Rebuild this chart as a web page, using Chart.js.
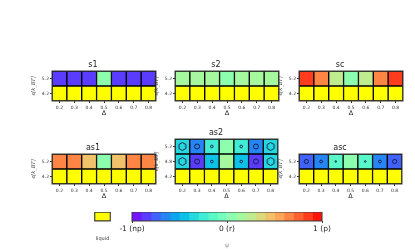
<!DOCTYPE html>
<html>
<head>
<meta charset="utf-8">
<script src="https://cdn.jsdelivr.net/npm/chart.js@4"></script>
<style>
  html, body { margin: 0; padding: 0; background: #fff; }
  #page { position: relative; width: 415px; height: 249px; overflow: hidden; }
  .box { position: absolute; }
</style>
</head>
<body>
<div id="page"></div>
<script>
// data
const deltas = ["0.2", "0.3", "0.4", "0.5", "0.6", "0.7", "0.8"];
const epsTwo = ["4.2", "5.2"];          // bottom -> top
const epsThree = ["4.2", "4.8", "5.2"];
const liquidRow = [null, null, null, null, null, null, null]; // null = liquid phase

const s1Psi  = [-0.85, -0.85, -0.85, 0.05, -0.85, -0.85, -0.85];
const s2Psi  = [0.15, 0.15, 0.15, 0.05, 0.15, 0.15, 0.15];
const scPsi  = [0.85, 0.65, 0.25, 0.05, 0.25, 0.65, 0.85];
const as1Psi = [0.65, 0.65, 0.45, 0.05, 0.45, 0.65, 0.65];
const as2Psi48 = [-0.35, -0.85, -0.45, 0.15, -0.45, -0.85, -0.35];
const as2Psi52 = [-0.35, -0.65, -0.25, 0.05, -0.25, -0.65, -0.35];
const ascPsi = [-0.75, -0.65, -0.15, 0.05, -0.15, -0.65, -0.75];

// symmetry markers (shape + size) on the crystal cells
const as2Marker = ["hex", "circle", "circle", null, "circle", "circle", "hex"];
const as2Size   = [4, 2.5, 1.3, 0, 1.3, 2.5, 4];
const ascMarker = ["circle", "circle", "circle", null, "circle", "circle", "circle"];
const ascSize   = [2.1, 1.4, 0.8, 0, 0.8, 1.4, 2.1];

// colour bar
const cbTicks = [-1, 0, 1];
const cbTickLabels = ["-1 (np)", "0 (r)", "1 (p)"];
const nBins = 20;

Chart.defaults.font.family = "'DejaVu Sans', sans-serif";
Chart.defaults.color = "#222";

const LIQUID = "#ffff00";
const MARK = "#16204a";

function rainbow(t) {
    const r = Math.min(1, Math.abs(2 * t - 0.5));
    const g = Math.sin(Math.PI * t);
    const b = Math.cos(Math.PI * t / 2);
    return "rgb(" + Math.round(r * 255) + "," + Math.round(g * 255) + "," + Math.round(b * 255) + ")";
}

function psiColor(v) {
    if (v === null) return LIQUID;
    var bin = Math.floor((v + 1) / 2 * nBins);
    bin = Math.max(0, Math.min(nBins - 1, bin));
    return rainbow((bin + 0.5) / nBins);
}

function hexImg(r) {
    var c = document.createElement("canvas");
    var s = Math.ceil(2 * r + 3);
    c.width = s; c.height = s;
    var g = c.getContext("2d");
    g.strokeStyle = MARK;
    g.lineWidth = 1;
    g.beginPath();
    for (var k = 0; k < 6; k++) {
        var a = Math.PI / 3 * k - Math.PI / 2;
        var px = s / 2 + r * Math.cos(a), py = s / 2 + r * Math.sin(a);
        if (k === 0) g.moveTo(px, py); else g.lineTo(px, py);
    }
    g.closePath();
    g.stroke();
    return c;
}

// frame round the plot area, like the axes spines
const framePlugin = {
    id: "frame",
    afterDatasetsDraw(chart) {
        const a = chart.chartArea, ctx = chart.ctx;
        ctx.save();
        ctx.strokeStyle = "#3a3a3a";
        ctx.lineWidth = 1;
        ctx.strokeRect(a.left, a.top, a.right - a.left, a.bottom - a.top);
        ctx.restore();
    }
};

function addBox(left, top, w, h) {
    var d = document.createElement("div");
    d.className = "box";
    d.style.left = left + "px";
    d.style.top = top + "px";
    d.style.width = w + "px";
    d.style.height = h + "px";
    var c = document.createElement("canvas");
    d.appendChild(c);
    document.getElementById("page").appendChild(d);
    return c;
}

const YW = 22, RP = 4, XH = 16, TH = 12;

function markerSet(row, shapes, sizes) {
    var pts = [], styles = [], radii = [];
    shapes.forEach(function (s, i) {
        if (!s) return;
        pts.push({ x: deltas[i], y: row + 0.5 });
        styles.push(s === "hex" ? hexImg(sizes[i]) : "circle");
        radii.push(sizes[i]);
    });
    return {
        type: "line",
        data: pts,
        showLine: false,
        pointStyle: styles,
        pointRadius: radii,
        pointBorderColor: MARK,
        pointBackgroundColor: "rgba(0,0,0,0)",
        pointBorderWidth: 1,
        order: 0
    };
}

function makePanel(p) {
    var w = p.plot.w + YW + RP, h = p.plot.h + TH + XH;
    var canvas = addBox(p.plot.x - YW, p.plot.y - TH, w, h);
    var datasets = p.rows.map(function (vals, i) {
        return {
            type: "bar",
            data: deltas.map(function () { return [i, i + 1]; }),
            backgroundColor: vals.map(psiColor),
            borderColor: "#000",
            borderWidth: 1,
            borderSkipped: false,
            grouped: false,
            barPercentage: 1,
            categoryPercentage: 1,
            order: 1
        };
    });
    (p.markers || []).forEach(function (m) {
        datasets.push(markerSet(m.row, m.shapes, m.sizes));
    });
    var yLabels = p.eps;
    new Chart(canvas.getContext("2d"), {
        type: "bar",
        data: { labels: deltas, datasets: datasets },
        plugins: [framePlugin],
        options: {
            responsive: true,
            maintainAspectRatio: false,
            animation: false,
            layout: { padding: { left: 0, right: RP, top: 0, bottom: 0 } },
            plugins: {
                legend: { display: false },
                tooltip: { enabled: false },
                title: {
                    display: true,
                    text: p.title,
                    color: "#222",
                    font: { size: 8, weight: "normal", lineHeight: 1.25 },
                    padding: { top: 1, bottom: 1 }
                }
            },
            scales: {
                x: {
                    type: "category",
                    offset: true,
                    grid: { offset: false, drawOnChartArea: false, tickLength: 2, color: "#333" },
                    border: { display: false },
                    ticks: { font: { size: 4.5 }, padding: 2, maxRotation: 0, autoSkip: false, color: "#333" },
                    title: { display: true, text: "Δ", font: { size: 6.5 }, padding: 0, color: "#222" },
                    afterFit: function (axis) { axis.height = XH; }
                },
                y: {
                    type: "linear",
                    min: 0,
                    max: yLabels.length,
                    grid: { drawOnChartArea: false, tickLength: 2, color: "#333" },
                    border: { display: false },
                    afterBuildTicks: function (axis) {
                        axis.ticks = yLabels.map(function (_, i) { return { value: i + 0.5 }; });
                    },
                    ticks: {
                        font: { size: 4.5 },
                        padding: 1,
                        color: "#333",
                        callback: function (v) { return yLabels[Math.floor(v)]; }
                    },
                    title: {
                        display: true,
                        text: "ϵ[k_BT]",
                        font: { size: 5, family: "'DejaVu Serif', serif", style: "italic" },
                        padding: { top: 0.5, bottom: 0 },
                        color: "#333"
                    },
                    afterFit: function (axis) { axis.width = YW; }
                }
            }
        }
    });
}

const panels = [
    { title: "s1",  plot: { x: 52,  y: 71,  w: 104, h: 30 }, eps: epsTwo, rows: [liquidRow, s1Psi] },
    { title: "s2",  plot: { x: 175, y: 71,  w: 104, h: 30 }, eps: epsTwo, rows: [liquidRow, s2Psi] },
    { title: "sc",  plot: { x: 299, y: 71,  w: 104, h: 30 }, eps: epsTwo, rows: [liquidRow, scPsi] },
    { title: "as1", plot: { x: 52,  y: 154, w: 104, h: 30 }, eps: epsTwo, rows: [liquidRow, as1Psi] },
    { title: "as2", plot: { x: 175, y: 139, w: 104, h: 45 }, eps: epsThree, rows: [liquidRow, as2Psi48, as2Psi52],
      markers: [{ row: 1, shapes: as2Marker, sizes: as2Size }, { row: 2, shapes: as2Marker, sizes: as2Size }] },
    { title: "asc", plot: { x: 299, y: 154, w: 104, h: 30 }, eps: epsTwo, rows: [liquidRow, ascPsi],
      markers: [{ row: 1, shapes: ascMarker, sizes: ascSize }] }
];

document.addEventListener("DOMContentLoaded", function () {
    panels.forEach(makePanel);

    // liquid swatch
    var lq = addBox(84, 212, 37, 30);
    new Chart(lq.getContext("2d"), {
        type: "bar",
        data: {
            labels: ["liquid"],
            datasets: [{
                data: [[0, 1]],
                backgroundColor: LIQUID,
                borderColor: "#333",
                borderWidth: 0.8,
                borderSkipped: false,
                barPercentage: 1,
                categoryPercentage: 1
            }]
        },
        plugins: [framePlugin],
        options: {
            responsive: true,
            maintainAspectRatio: false,
            animation: false,
            layout: { padding: { left: 10, right: 10, top: 0, bottom: 0 } },
            plugins: { legend: { display: false }, tooltip: { enabled: false } },
            scales: {
                x: {
                    grid: { display: false },
                    border: { display: false },
                    ticks: { font: { size: 5 }, padding: 7, color: "#333" },
                    afterFit: function (axis) { axis.height = 21; }
                },
                y: { display: false, min: 0, max: 1 }
            }
        }
    });

    // colour bar
    var cbSets = [];
    for (var b = 0; b < nBins; b++) {
        var lo = -1 + 2 * b / nBins, hi = -1 + 2 * (b + 1) / nBins;
        cbSets.push({
            data: [[lo, hi]],
            backgroundColor: rainbow((b + 0.5) / nBins),
            borderWidth: 0,
            grouped: false,
            barPercentage: 1,
            categoryPercentage: 1
        });
    }
    var cb = addBox(112, 212, 230, 37);
    new Chart(cb.getContext("2d"), {
        type: "bar",
        data: { labels: [""], datasets: cbSets },
        plugins: [framePlugin],
        options: {
            indexAxis: "y",
            responsive: true,
            maintainAspectRatio: false,
            animation: false,
            layout: { padding: { left: 20, right: 20, top: 0, bottom: 0 } },
            plugins: { legend: { display: false }, tooltip: { enabled: false } },
            scales: {
                y: { display: false },
                x: {
                    type: "linear",
                    min: -1,
                    max: 1,
                    grid: { drawOnChartArea: false, tickLength: 2, color: "#333" },
                    border: { display: false },
                    afterBuildTicks: function (axis) {
                        axis.ticks = cbTicks.map(function (v) { return { value: v }; });
                    },
                    ticks: {
                        font: { size: 7.5 },
                        padding: 1.5,
                        color: "#222",
                        callback: function (v) { return cbTickLabels[cbTicks.indexOf(v)]; }
                    },
                    title: { display: true, text: "ψ", font: { size: 6 }, color: "#999", padding: { top: 6, bottom: 0 } },
                    afterFit: function (axis) { axis.height = 28; }
                }
            }
        }
    });
});
</script>
</body>
</html>
